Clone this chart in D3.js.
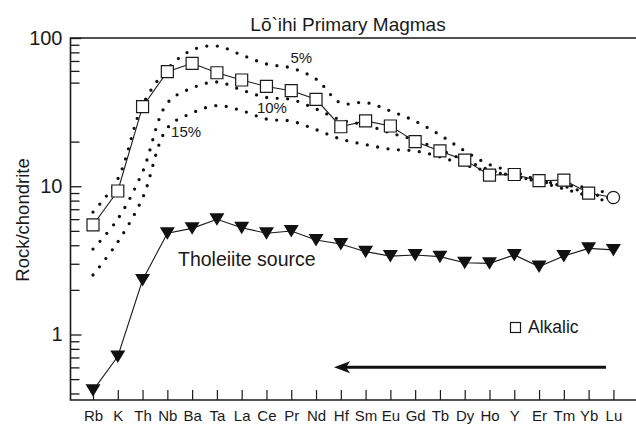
<!DOCTYPE html>
<html>
<head>
<meta charset="utf-8">
<script src="https://cdn.jsdelivr.net/npm/d3@7"></script>
<style>
  html, body { margin: 0; padding: 0; background: #fff; }
  svg { display: block; font-family: "Liberation Sans", Arial, Helvetica, sans-serif; }
</style>
</head>
<body>
<svg id="chart" width="636" height="424"></svg>
<script>
// Trace elements, ordered by incompatibility
const categories = ["Rb","K","Th","Nb","Ba","Ta","La","Ce","Pr","Nd","Hf","Sm","Eu","Gd","Tb","Dy","Ho","Y","Er","Tm","Yb","Lu"];

// Alkalic primary magma (rock/chondrite)
const alkalic = [5.48, 9.29, 34.4, 59.3, 67.5, 58.3, 52.1, 47.1, 44.1, 38.6, 25.2, 27.6, 25.5, 20.0, 17.3, 15.0, 11.9, 12.0, 10.9, 11.0, 9.0, 8.4];

// Tholeiite source composition
const tholeiite = [0.42, 0.71, 2.33, 4.82, 5.20, 5.99, 5.25, 4.82, 4.99, 4.34, 4.08, 3.62, 3.38, 3.44, 3.35, 3.05, 3.02, 3.44, 2.87, 3.38, 3.81, 3.72];

// Model melts of the source at different degrees of melting
const melt5  = [6.70, 11.2, 35.3, 61.8, 83.0, 88.3, 76.8, 66.8, 62.8, 52.9, 36.4, 36.7, 32.2, 27.5, 22.2, 17.3, 14.0, 12.5, 11.0, 10.2, 9.73, 8.73];
const melt10 = [3.77, 6.01, 12.5, 36.4, 46.0, 50.5, 44.6, 39.7, 38.5, 33.2, 28.0, 25.9, 22.9, 20.5, 17.6, 15.0, 12.9, 11.7, 10.85, 10.0, 9.0, 8.2];
const melt15 = [2.52, 4.21, 8.33, 24.7, 31.2, 35.0, 32.4, 28.4, 27.5, 24.1, 20.8, 19.1, 17.8, 17.3, 15.8, 13.9, 12.6, 11.7, 10.7, 9.6, 8.6, 7.7];

const meltLabels = ["5%", "10%", "15%"];

// Axis ticks
const yMajorTicks = [1, 10, 100];
const yMinorTicks = [0.4, 0.5, 0.6, 0.7, 0.8, 0.9, 2, 3, 4, 5, 6, 7, 8, 9, 20, 50, 60, 70, 80, 90];

const svg = d3.select("#chart");
const ink = "#1a1a1a";

const x = d3.scalePoint().domain(categories).range([93, 613.4]);
const y = d3.scaleLog().domain([0.3615, 100]).range([400, 38]);

const frameLeft = 70.5, frameRight = 636, frameTop = 38, frameBottom = 400;

// Title
svg.append("text")
  .attr("x", 348).attr("y", 31)
  .attr("text-anchor", "middle")
  .attr("font-size", 19)
  .attr("fill", ink)
  .text("Lō`ihi Primary Magmas");

// Y axis title
svg.append("text")
  .attr("transform", "translate(29,220) rotate(-90)")
  .attr("text-anchor", "middle")
  .attr("font-size", 18.5)
  .attr("fill", ink)
  .text("Rock/chondrite");

// Y axis: major ticks with labels
const yMajor = svg.append("g")
  .attr("transform", `translate(${frameLeft},0)`)
  .call(d3.axisLeft(y).tickValues(yMajorTicks).tickSize(-11).tickPadding(8)
    .tickFormat(d3.format("d")));
yMajor.select(".domain").remove();
yMajor.selectAll("line").attr("stroke", ink).attr("stroke-width", 1.3);
yMajor.selectAll("text").attr("font-size", 20).attr("fill", ink)
  .attr("font-family", "'Liberation Sans', Arial, sans-serif");

// Y axis: minor ticks
const yMinor = svg.append("g")
  .attr("transform", `translate(${frameLeft},0)`)
  .call(d3.axisLeft(y).tickValues(yMinorTicks).tickSize(-9).tickFormat(""));
yMinor.select(".domain").remove();
yMinor.selectAll("line").attr("stroke", ink).attr("stroke-width", 1.3);

// X axis
const xAxis = svg.append("g")
  .attr("transform", `translate(0,${frameBottom})`)
  .call(d3.axisBottom(x).tickSize(-10).tickPadding(10));
xAxis.select(".domain").remove();
xAxis.selectAll("line").attr("stroke", ink).attr("stroke-width", 1.2);
xAxis.selectAll("text").attr("font-size", 15).attr("fill", ink)
  .attr("font-family", "'Liberation Sans', Arial, sans-serif");

// Frame: left, bottom and top lines
svg.append("path")
  .attr("d", `M${frameRight},${frameTop}H${frameLeft}V${frameBottom}H${frameRight}`)
  .attr("fill", "none").attr("stroke", ink).attr("stroke-width", 1.6);

// Model melt curves, drawn as round dots
const curve = d3.line()
  .x((d, i) => x(categories[i]))
  .y(d => y(d))
  .curve(d3.curveCatmullRom.alpha(0.5));

[melt5, melt10, melt15].forEach(series => {
  svg.append("path")
    .attr("d", curve(series))
    .attr("fill", "none")
    .attr("stroke", "#111")
    .attr("stroke-width", 3.3)
    .attr("stroke-linecap", "round")
    .attr("stroke-dasharray", "0 10.5");
});

// Degree-of-melting labels (baseline placed on the value axis)
const labelPos = [
  { cat: "Pr", dx: 10, value: 67.8 },
  { cat: "Ce", dx: 5.5, value: 31.2 },
  { cat: "Ba", dx: -6, value: 21.5 }
];
meltLabels.forEach((t, i) => {
  svg.append("text")
    .attr("x", x(labelPos[i].cat) + labelPos[i].dx)
    .attr("y", y(labelPos[i].value))
    .attr("text-anchor", "middle")
    .attr("font-size", 15)
    .attr("fill", ink)
    .text(t);
});

// Tholeiite source line and filled down-pointing triangles
const line = d3.line().x((d, i) => x(categories[i])).y(d => y(d));
svg.append("path")
  .attr("d", line(tholeiite))
  .attr("fill", "none").attr("stroke", ink).attr("stroke-width", 1.1);

svg.append("g").selectAll("path")
  .data(tholeiite)
  .join("path")
  .attr("transform", (d, i) => `translate(${x(categories[i])},${y(d)})`)
  .attr("d", "M-7.5,-6L7.5,-6L0,6.5Z")
  .attr("fill", "#111");

svg.append("text")
  .attr("x", 178).attr("y", 266)
  .attr("font-size", 19.5)
  .attr("fill", ink)
  .text("Tholeiite source");

// Alkalic magma line with open squares (circle at Lu)
svg.append("path")
  .attr("d", line(alkalic))
  .attr("fill", "none").attr("stroke", ink).attr("stroke-width", 1.1);

svg.append("g").selectAll("path")
  .data(alkalic)
  .join("path")
  .attr("transform", (d, i) => `translate(${x(categories[i])},${y(d)})`)
  .attr("d", (d, i) => categories[i] === "Lu"
    ? d3.symbol(d3.symbolCircle, 120)()
    : "M-6,-6H6V6H-6Z")
  .attr("fill", "#fff")
  .attr("stroke", ink)
  .attr("stroke-width", 1.2);

// Legend
svg.append("rect")
  .attr("x", 510.5).attr("y", 322.5)
  .attr("width", 10).attr("height", 10)
  .attr("fill", "#fff").attr("stroke", ink).attr("stroke-width", 1.2);
svg.append("text")
  .attr("x", 528).attr("y", 333)
  .attr("font-size", 17.5)
  .attr("fill", ink)
  .text("Alkalic");

// Arrow pointing toward the more incompatible elements
svg.append("line")
  .attr("x1", 606).attr("y1", 367.3)
  .attr("x2", 345).attr("y2", 367.3)
  .attr("stroke", "#111").attr("stroke-width", 3);
svg.append("path")
  .attr("d", "M334,367.3L350,361.3L346,367.3L350,373.3Z")
  .attr("fill", "#111");
</script>
</body>
</html>
